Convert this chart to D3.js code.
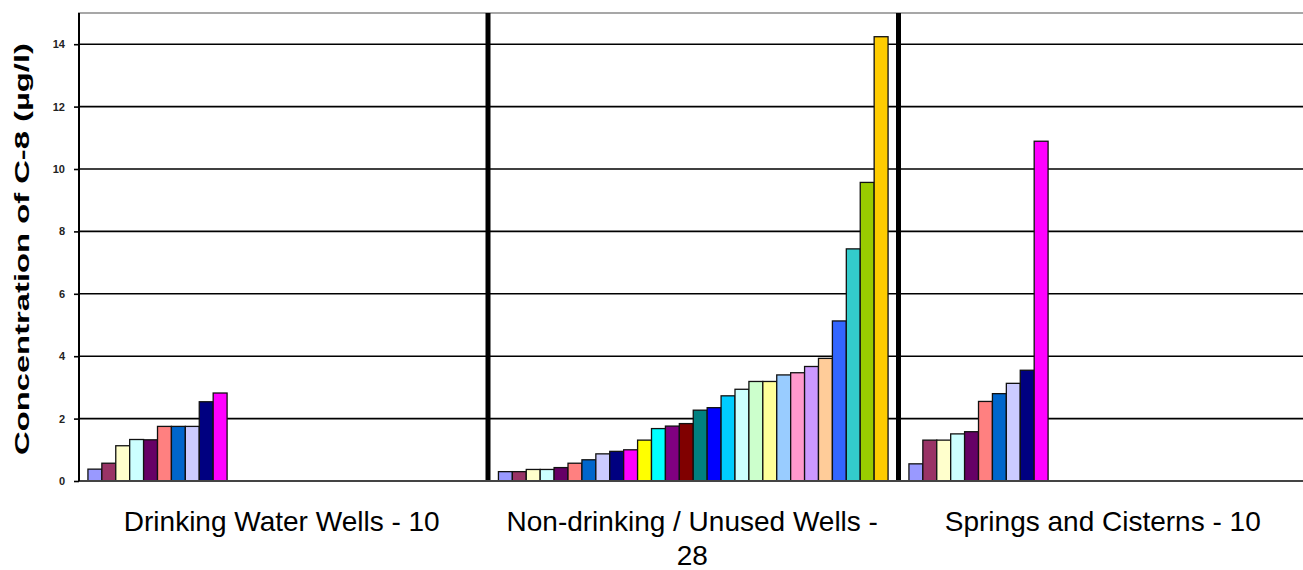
<!DOCTYPE html>
<html>
<head>
<meta charset="utf-8">
<script src="https://cdn.jsdelivr.net/npm/d3@7"></script>
<style>
  html, body { margin: 0; padding: 0; background: #ffffff; }
  svg { display: block; }
</style>
</head>
<body>
<svg id="chart" width="1303" height="570"></svg>
<script>
// ---------------- data ----------------
const categories = ["Drinking Water Wells - 10", "Non-drinking / Unused Wells - 28", "Springs and Cisterns - 10"];
const categoryLines = [["Drinking Water Wells - 10"], ["Non-drinking / Unused Wells -", "28"], ["Springs and Cisterns - 10"]];
const drinkingWells = [0.38, 0.57, 1.13, 1.33, 1.32, 1.75, 1.75, 1.75, 2.54, 2.82];
const nonDrinkingWells = [0.30, 0.30, 0.37, 0.37, 0.43, 0.57, 0.68, 0.87, 0.95, 1.00,
                          1.31, 1.68, 1.76, 1.84, 2.27, 2.35, 2.73, 2.94, 3.19, 3.19,
                          3.40, 3.47, 3.67, 3.93, 5.13, 7.44, 9.57, 14.24];
const springsCisterns = [0.55, 1.31, 1.31, 1.51, 1.58, 2.55, 2.80, 3.13, 3.55, 10.89];
const seriesColors = ["#9999FF", "#993366", "#FFFFCC", "#CCFFFF", "#660066", "#FF8080", "#0066CC", "#CCCCFF",
                      "#000080", "#FF00FF", "#FFFF00", "#00FFFF", "#800080", "#800000", "#008080", "#0000FF",
                      "#00CCFF", "#CCFFFF", "#CCFFCC", "#FFFF99", "#99CCFF", "#FF99CC", "#CC99FF", "#FFCC99",
                      "#3366FF", "#33CCCC", "#99CC00", "#FFCC00"];
const yTicks = [0, 2, 4, 6, 8, 10, 12, 14];
const yMax = 15;
const yLabel = "Concentration of C-8 (µg/l)";
const groupValues = [drinkingWells, nonDrinkingWells, springsCisterns];

// ---------------- layout ----------------
const svg = d3.select("#chart");
const W = 1303;
const plotLeft = 77.5, plotRight = 1309, plotTop = 13, plotBottom = 481;
const axisX = 79;

const x0 = d3.scaleBand().domain(categories).range([plotLeft, plotRight]).paddingInner(0).paddingOuter(0);
const maxSeries = d3.max(groupValues, g => g.length);
const x1 = d3.scaleBand().domain(d3.range(maxSeries)).range([0, x0.bandwidth()]).paddingInner(0).paddingOuter(0.75);
const y = d3.scaleLinear().domain([0, yMax]).range([plotBottom, plotTop]);

// gridlines
svg.append("g").selectAll("line").data(yTicks.filter(t => t > 0)).join("line")
  .attr("x1", axisX).attr("x2", W)
  .attr("y1", d => y(d)).attr("y2", d => y(d))
  .attr("stroke", "#000").attr("stroke-width", 1.6);

// top border
svg.append("line").attr("x1", axisX - 1).attr("x2", W).attr("y1", y(yMax)).attr("y2", y(yMax))
  .attr("stroke", "#8a8a8a").attr("stroke-width", 1.5);

// bars
const flat = [];
groupValues.forEach((vals, gi) => vals.forEach((v, i) => flat.push({ cat: categories[gi], i, v })));
svg.append("g").selectAll("rect").data(flat).join("rect")
  .attr("x", d => x0(d.cat) + x1(d.i))
  .attr("width", x1.bandwidth())
  .attr("y", d => y(d.v))
  .attr("height", d => y(0) - y(d.v))
  .attr("fill", d => seriesColors[d.i])
  .attr("stroke", "#111").attr("stroke-width", 1.3);

// separators between categories
svg.append("g").selectAll("line").data(categories.slice(1)).join("line")
  .attr("x1", d => x0(d)).attr("x2", d => x0(d))
  .attr("y1", y(yMax)).attr("y2", y(0))
  .attr("stroke", "#000").attr("stroke-width", 5);

// x baseline
svg.append("line").attr("x1", axisX).attr("x2", W).attr("y1", y(0)).attr("y2", y(0))
  .attr("stroke", "#444").attr("stroke-width", 2);

// y axis
const yAxis = d3.axisLeft(y).tickValues(yTicks).tickSize(5).tickPadding(9).tickFormat(d3.format("d"));
const ya = svg.append("g").attr("transform", `translate(${axisX},0)`).call(yAxis);
ya.select(".domain").attr("stroke", "#000").attr("stroke-width", 2).attr("d", `M-0,${y(yMax)}V${y(0)}`);
ya.selectAll(".tick line").attr("stroke", "#000").attr("stroke-width", 1.6);
ya.selectAll(".tick text").attr("font-family", "Liberation Sans, Arial, sans-serif")
  .attr("font-size", 11).attr("font-weight", "bold").attr("fill", "#222");

// y label
svg.append("text")
  .attr("transform", `translate(29,${(y(0) + y(yMax)) / 2 + 2}) rotate(-90)`)
  .attr("text-anchor", "middle")
  .attr("font-family", "Liberation Sans, Arial, sans-serif")
  .attr("font-size", 20).attr("font-weight", "bold").attr("fill", "#000")
  .attr("textLength", 412).attr("lengthAdjust", "spacingAndGlyphs")
  .text(yLabel);

// category labels
const cl = svg.append("g").selectAll("text").data(categories).join("text")
  .attr("x", d => x0(d) + x0.bandwidth() / 2 - 1)
  .attr("y", 531)
  .attr("text-anchor", "middle")
  .attr("font-family", "Liberation Sans, Arial, sans-serif")
  .attr("font-size", 28).attr("fill", "#000");
cl.each(function(d, i) {
  d3.select(this).selectAll("tspan").data(categoryLines[i]).join("tspan")
    .attr("x", x0(d) + x0.bandwidth() / 2 - 1)
    .attr("dy", (t, j) => j === 0 ? 0 : 34)
    .text(t => t);
});
</script>
</body>
</html>
